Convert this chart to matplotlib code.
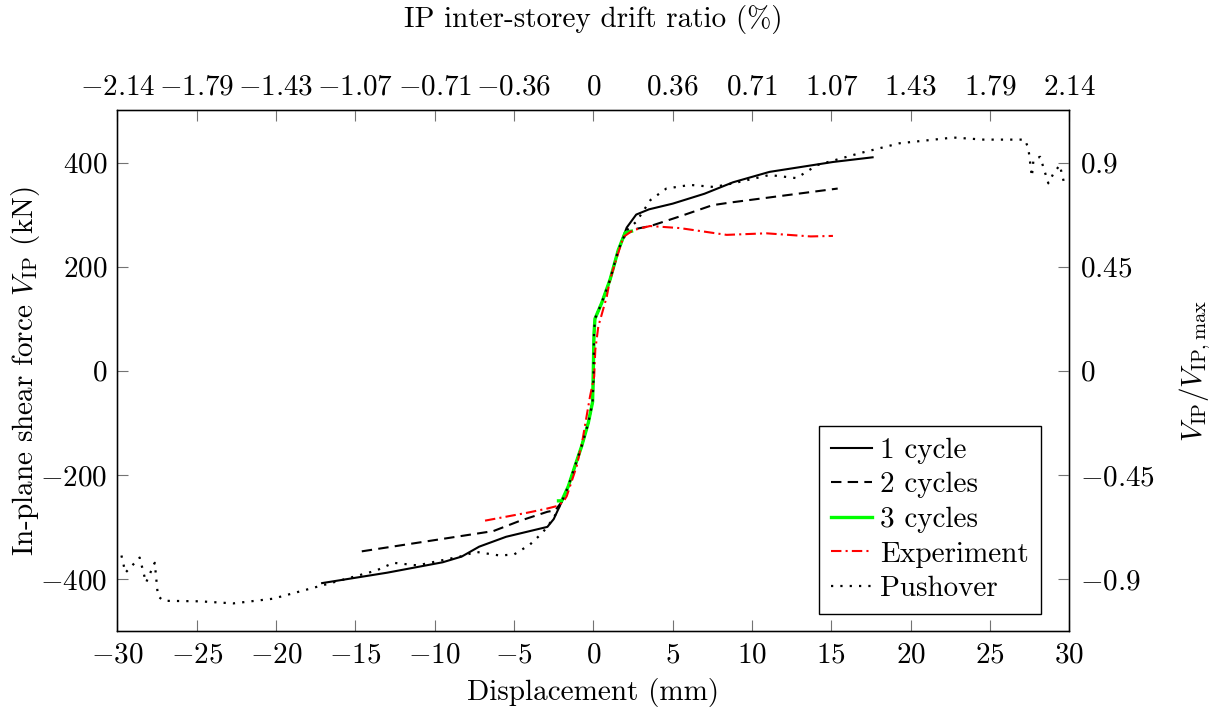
import matplotlib
matplotlib.use("Agg")
import matplotlib.pyplot as plt

# --- data -------------------------------------------------------------
# 1 cycle
disp_1 = [-17.1, -13.0, -9.5, -8.3, -7.2, -5.5, -2.9, -2.5, -2.0, -1.58, -1.16,
          -0.74, -0.32, -0.05, 0.0, 0.04, 0.1, 0.52, 1.05, 1.57, 2.1, 2.7, 3.5,
          5.0, 7.0, 8.8, 11.1, 15.1, 17.6]
force_1 = [-408, -388, -368, -357, -338, -319, -300, -285, -252, -222, -183,
           -145, -100, -60, -20, 72, 100, 130, 175, 232, 275, 300, 310,
           321, 340, 362, 382, 401, 410]

# 2 cycles
disp_2 = [-14.6, -6.3, -4.6, -2.9, -2.4, -2.0, -1.58, -1.16, -0.74, -0.32,
          -0.05, 0.0, 0.04, 0.1, 0.52, 1.05, 1.57, 2.1, 2.6, 3.6, 5.5, 7.5, 8.6, 15.4]
force_2 = [-347, -308, -288, -271, -268, -252, -222, -183, -145, -100,
           -60, -20, 72, 100, 130, 175, 232, 266, 272, 278, 297, 318, 323, 350]

# 3 cycles
disp_3 = [-2.2, -2.0, -1.58, -1.16, -0.74, -0.32, -0.05, 0.0, 0.04, 0.1,
          0.52, 1.05, 1.57, 2.0, 2.4]
force_3 = [-250, -250, -222, -183, -145, -100, -60, 8, 72, 100,
           130, 175, 232, 265, 268]

# Experiment
disp_exp = [-6.83, -4.2, -2.94, -2.3, -1.9, -1.68, -1.05, -0.68, -0.21, 0.05,
            0.12, 0.31, 0.84, 1.05, 1.5, 1.89, 2.5, 3.57, 5.46, 8.4, 10.9, 13.7, 15.1]
force_exp = [-288, -273, -265, -260, -252, -241, -183, -132, -49, -11,
             40, 85, 142, 175, 220, 257, 270, 278, 274, 261, 264, 258, 259]

# Pushover
disp_po = [-29.75, -29.5, -28.6, -28.2, -27.65, -27.45, -27.1, -24.8, -22.7,
           -20.2, -16.8, -13.7, -12.6, -11.1, -8.4, -7.4, -5.9, -5.0, -4.0,
           -3.2, -2.5, -2.0, -1.58, -1.16, -0.74, -0.32, -0.05, 0.0, 0.04, 0.1,
           0.52, 1.05, 1.57, 2.1, 2.7, 3.6, 4.6, 6.1, 7.6, 8.8, 11.1, 12.8,
           14.1, 16.8, 19.3, 22.7, 24.6, 27.2, 27.42, 27.64, 27.74, 28.16,
           28.68, 29.0, 29.4, 29.7]
force_po = [-355, -388, -359, -407, -369, -433, -442, -443, -447,
            -438, -410, -384, -369, -374, -357, -348, -355, -353, -334,
            -311, -283, -252, -222, -183, -145, -100, -60, -20, 72, 100,
            130, 175, 232, 270, 286, 328, 350, 357, 353, 360, 376, 370,
            395, 418, 437, 448, 444, 444, 427, 373, 405, 411,
            360, 379, 395, 357]

# axis ticks and secondary labels
disp_ticks = [-30, -25, -20, -15, -10, -5, 0, 5, 10, 15, 20, 25, 30]
drift_labels = ["-2.14", "-1.79", "-1.43", "-1.07", "-0.71", "-0.36", "0",
                "0.36", "0.71", "1.07", "1.43", "1.79", "2.14"]
force_ticks = [-400, -200, 0, 200, 400]
ratio_labels = ["-0.9", "-0.45", "0", "0.45", "0.9"]

# --- style ------------------------------------------------------------
plt.rcParams.update({
    "font.family": "serif",
    "font.serif": ["cmr10"],
    "mathtext.fontset": "cm",
    "axes.unicode_minus": False,
    "font.size": 21,
})

fig = plt.figure(figsize=(12.11, 7.15), dpi=100)
ax = fig.add_axes([0.0970, 0.1175, 0.786, 0.728])

ax.plot(disp_1, force_1, color="black", lw=1.5, label="1 cycle", zorder=4)
ax.plot(disp_2, force_2, color="black", lw=1.5, linestyle=(0, (5.0, 3.0)),
        label="2 cycles", zorder=3)
ax.plot(disp_3, force_3, color="#00ff00", lw=2.4, label="3 cycles", zorder=5)
ax.plot(disp_exp, force_exp, color="red", lw=1.5,
        linestyle=(0, (5.0, 2.0, 1.0, 2.0)), label="Experiment", zorder=6)
ax.plot(disp_po, force_po, color="black", lw=1.6, linestyle=(0, (1, 3.2)),
        label="Pushover", zorder=7)

ax.set_xlim(-30, 30)
ax.set_ylim(-500, 500)

def mlabel(s):
    return "$" + s + "$"

tick_kw = dict(direction="in", length=8, width=0.8, color="0.45",
               labelcolor="black", labelsize=21)

ax.set_xticks(disp_ticks)
ax.set_xticklabels([mlabel(str(v)) for v in disp_ticks])
ax.set_yticks(force_ticks)
ax.set_yticklabels([mlabel(str(v)) for v in force_ticks])
ax.tick_params(axis="x", pad=8, **tick_kw)
ax.tick_params(axis="y", pad=7, **tick_kw)
for sp in ax.spines.values():
    sp.set_linewidth(1.0)

ax.set_xlabel("Displacement (mm)", fontsize=21, labelpad=7)
ax.set_ylabel(r"In-plane shear force $V_{\mathrm{IP}}$ (kN)", fontsize=21,
              labelpad=-1)

# drift ratio on top
ax_top = ax.twiny()
ax_top.set_xlim(ax.get_xlim())
ax_top.set_xticks(disp_ticks)
ax_top.set_xticklabels([mlabel(s) for s in drift_labels])
ax_top.tick_params(axis="x", pad=7, **tick_kw)
ax_top.set_xlabel("IP inter-storey drift ratio (%)", fontsize=21, labelpad=34)

# normalised force on the right
ax_right = ax.twinx()
ax_right.set_ylim(ax.get_ylim())
ax_right.set_yticks(force_ticks)
ax_right.set_yticklabels([mlabel(s) for s in ratio_labels])
ax_right.tick_params(axis="y", pad=8, **tick_kw)
ax_right.set_ylabel(r"$V_{\mathrm{IP}}/V_{\mathrm{IP,max}}$", fontsize=21,
                    labelpad=16)

handles, labels = ax.get_legend_handles_labels()
leg = ax_right.legend(handles, labels, loc="lower right",
                      bbox_to_anchor=(0.970, 0.033), borderaxespad=0,
                      fancybox=False, framealpha=1, edgecolor="black",
                      handlelength=1.4, handletextpad=0.3,
                      labelspacing=0.28, borderpad=0.4, fontsize=21)
leg.get_frame().set_linewidth(1.0)

fig.savefig("out.png", dpi=100)
